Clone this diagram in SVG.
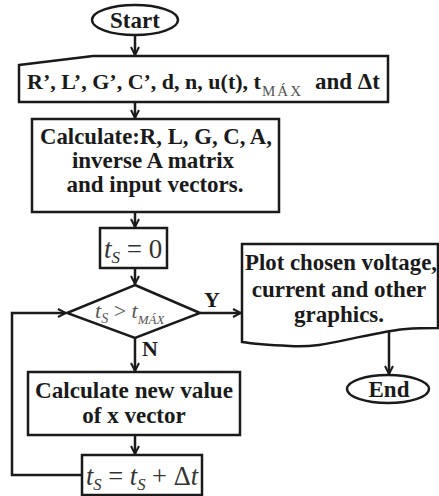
<svg xmlns="http://www.w3.org/2000/svg" width="439" height="496" viewBox="0 0 439 496">
<defs>
<marker id="ah" markerWidth="10" markerHeight="10" refX="9" refY="5" orient="auto" markerUnits="userSpaceOnUse">
<path d="M1,1 L9,5 L1,9" fill="none" stroke="#1a1a1a" stroke-width="2"/>
</marker>
</defs>
<style>
.s{fill:#fff;stroke:#1a1a1a;stroke-width:2.5}
.t{font-weight:bold;font-size:23px;fill:#1a1a1a;text-anchor:middle}
.m{font-style:italic;font-size:27px;fill:#333}
.c{fill:none;stroke:#1a1a1a;stroke-width:2.5}
</style>
<rect width="439" height="496" fill="#fff"/>
<g font-family="'Liberation Serif', 'Times New Roman', serif">
<g id="start">
<ellipse class="s" cx="135" cy="20" rx="43" ry="15"/>
<text class="t" x="135" y="28">Start</text>
</g>
<g id="input">
<path class="s" d="M19,65 L93,56 L388,56 L388,102 L19,102 Z"/>
<text class="t" x="27" y="89" style="text-anchor:start;font-size:22px">R’, L’, G’, C’, d, n, u(t), t</text>
<text x="262" y="96" font-size="15" letter-spacing="2" fill="#555">MÁX</text>
<text class="t" x="315" y="89" style="text-anchor:start">and Δt</text>
</g>
<g id="calc1">
<rect class="s" x="32" y="119" width="247" height="93"/>
<text class="t" x="156" y="144" textLength="232" lengthAdjust="spacingAndGlyphs">Calculate:R, L, G, C, A,</text>
<text class="t" x="153" y="168">inverse A matrix</text>
<text class="t" x="155" y="192">and input vectors.</text>
</g>
<g id="init">
<rect class="s" x="100" y="228" width="67" height="40"/>
<text class="m" x="104" y="258">t<tspan font-size="17" dy="5">S</tspan><tspan dy="-5" font-style="normal"> = 0</tspan></text>
</g>
<g id="cond">
<path class="s" d="M135,285 L200,313 L135,338 L67,313 Z"/>
<text class="m" x="95" y="318" style="fill:#555;font-size:22px">t<tspan font-size="14" dy="5">S</tspan><tspan dy="-5" font-style="normal"> &gt; </tspan>t<tspan font-size="13" dy="6">MÁX</tspan></text>
<text class="t" x="212" y="307" style="font-size:22px">Y</text>
<text class="t" x="150" y="356" style="font-size:22px">N</text>
</g>
<g id="plot">
<path class="s" d="M242,244 L438,244 L438,328 C410,328 400,329 380,333 C340,340 320,348 290,346 C270,345 255,344 242,342 Z"/>
<text class="t" x="341" y="270" textLength="192" lengthAdjust="spacingAndGlyphs">Plot chosen voltage,</text>
<text class="t" x="339" y="297">current and other</text>
<text class="t" x="339" y="322">graphics.</text>
</g>
<g id="end">
<ellipse class="s" cx="388" cy="389" rx="41" ry="14"/>
<text class="t" x="389" y="397">End</text>
</g>
<g id="calc2">
<rect class="s" x="28" y="372" width="212" height="63"/>
<text class="t" x="134" y="398" textLength="198" lengthAdjust="spacingAndGlyphs">Calculate new value</text>
<text class="t" x="134" y="423">of x vector</text>
</g>
<g id="incr">
<rect class="s" x="82" y="455" width="120" height="40"/>
<text class="m" x="86" y="485" textLength="112" lengthAdjust="spacingAndGlyphs">t<tspan font-size="17" dy="5">S</tspan><tspan dy="-5" font-style="normal"> = </tspan>t<tspan font-size="17" dy="5">S</tspan><tspan dy="-5" font-style="normal"> + Δ</tspan>t</text>
</g>
</g>
<g id="connectors">
<line class="c" x1="135" y1="35" x2="135" y2="55" marker-end="url(#ah)"/>
<line class="c" x1="135" y1="102" x2="135" y2="118" marker-end="url(#ah)"/>
<line class="c" x1="135" y1="212" x2="135" y2="227" marker-end="url(#ah)"/>
<line class="c" x1="135" y1="268" x2="135" y2="284" marker-end="url(#ah)"/>
<line class="c" x1="200" y1="313" x2="241" y2="313" marker-end="url(#ah)"/>
<line class="c" x1="135" y1="338" x2="135" y2="371" marker-end="url(#ah)"/>
<line class="c" x1="135" y1="435" x2="135" y2="454" marker-end="url(#ah)"/>
<line class="c" x1="389" y1="332" x2="389" y2="374" marker-end="url(#ah)"/>
<polyline class="c" points="82,475 12,475 12,313 66,313" marker-end="url(#ah)"/>
</g>
</svg>
